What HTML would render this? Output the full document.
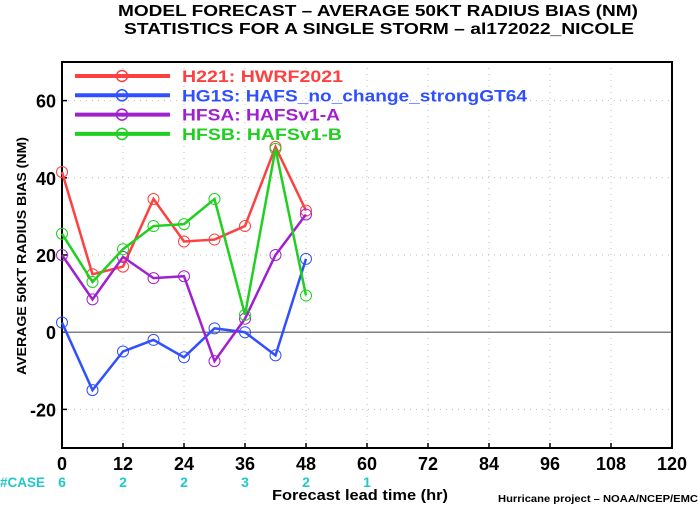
<!DOCTYPE html>
<html><head><meta charset="utf-8"><style>
body{margin:0;background:#fff;}
svg text{font-family:"Liberation Sans",sans-serif;font-weight:bold;}
</style></head><body>
<svg width="700" height="506" viewBox="0 0 700 506" xmlns="http://www.w3.org/2000/svg">
<text x="378" y="16" text-anchor="middle" font-size="16" textLength="520" lengthAdjust="spacingAndGlyphs">MODEL FORECAST – AVERAGE 50KT RADIUS BIAS (NM)</text>
<text x="379" y="34" text-anchor="middle" font-size="16" textLength="510" lengthAdjust="spacingAndGlyphs">STATISTICS FOR A SINGLE STORM – al172022_NICOLE</text>
<g id="grid"></g>
<g id="axes"></g>
<g id="series"></g>
<g id="legend"></g>
<text x="26" y="256" transform="rotate(-90 26 256)" text-anchor="middle" font-size="13" textLength="238" lengthAdjust="spacingAndGlyphs">AVERAGE 50KT RADIUS BIAS (NM)</text>
<text x="360" y="500" text-anchor="middle" font-size="15" textLength="176" lengthAdjust="spacingAndGlyphs">Forecast lead time (hr)</text>
<text x="698" y="502" text-anchor="end" font-size="10" font-weight="normal" textLength="200" lengthAdjust="spacingAndGlyphs">Hurricane project – NOAA/NCEP/EMC</text>
<text x="0" y="487" font-size="14" fill="#20c8c8" textLength="45" lengthAdjust="spacingAndGlyphs">#CASE</text>
</svg>
<script>
const hours=[0,6,12,18,24,30,36,42,48];
const h221=[41.5,15,17,34.5,23.5,24,27.5,48,31.5];
const hg1s=[2.5,-15,-5,-2,-6.5,1,0,-6,19];
const hfsa=[20,8.5,19.5,14,14.5,-7.5,3.5,20,30.5];
const hfsb=[25.5,13,21.5,27.5,28,34.5,4.5,47.5,9.5];
const xTicks=[0,12,24,36,48,60,72,84,96,108,120];
const yTicks=[-20,0,20,40,60];
const caseHours=[0,12,24,36,48,60];
const caseCounts=[6,2,2,3,2,1];
const seriesNames=["H221: HWRF2021","HG1S: HAFS_no_change_strongGT64","HFSA: HAFSv1-A","HFSB: HAFSv1-B"];
const nameLens=[161,345,158,160];
const colors=["#ff4040","#3050ff","#a020d0","#20d020"];
const NS="http://www.w3.org/2000/svg";
const L=62,R=672,T=62,B=448,ymin=-30,ymax=70;
const X=v=>L+(v-0)/120*(R-L);
const Y=v=>B-(v-ymin)/(ymax-ymin)*(B-T);
function mk(tag,attrs,parent,txt){const e=document.createElementNS(NS,tag);for(const k in attrs)e.setAttribute(k,attrs[k]);if(txt!==undefined)e.textContent=txt;document.getElementById(parent).appendChild(e);return e;}
xTicks.forEach(t=>{if(t>0&&t<120){const e=mk('line',{x1:X(t),x2:X(t),y1:T,y2:B,stroke:'#bbb','stroke-dasharray':'1 5'},'grid');}
 const tl=mk('text',{x:X(t),y:B+22,'text-anchor':'middle','font-size':'18'},'axes',t);
 const tk=mk('line',{x1:X(t),x2:X(t),y1:B,y2:B-5,stroke:'#000','stroke-width':1.5},'axes');});
yTicks.forEach(t=>{if(t!==0){const e=mk('line',{x1:L,x2:R,y1:Y(t),y2:Y(t),stroke:'#bbb','stroke-dasharray':'1 5'},'grid');}
 const tl=mk('text',{x:L-6,y:Y(t)+7,'text-anchor':'end','font-size':'18'},'axes',t);
 const tk=mk('line',{x1:L,x2:L+5,y1:Y(t),y2:Y(t),stroke:'#000','stroke-width':1.5},'axes');});
const zl=mk('line',{x1:L,x2:R,y1:Y(0),y2:Y(0),stroke:'#555','stroke-width':1.2},'axes');
const fr=mk('rect',{x:L,y:T,width:R-L,height:B-T,fill:'none',stroke:'#000','stroke-width':2},'axes');
caseHours.forEach((h,i)=>{const e=mk('text',{x:X(h),y:487,'text-anchor':'middle','font-size':'14',fill:'#20c8c8'},'axes',caseCounts[i]);});
[h221,hg1s,hfsa,hfsb].forEach((s,k)=>{
 const p=mk('polyline',{points:s.map((v,i)=>X(hours[i])+','+Y(v)).join(' '),fill:'none',stroke:colors[k],'stroke-width':2.5},'series');
 
 s.forEach((v,i)=>{const c=mk('circle',{cx:X(hours[i]),cy:Y(v),r:5.5,fill:'none',stroke:colors[k],'stroke-width':1},'series');});
 const ly=76+k*19.3;
 const ll=mk('line',{x1:75,x2:170,y1:ly,y2:ly,stroke:colors[k],'stroke-width':4},'legend');
 const lc=mk('circle',{cx:122,cy:ly,r:5.5,fill:'none',stroke:colors[k],'stroke-width':1.5},'legend');
 const lt=mk('text',{x:182,y:ly+6,'font-size':'17',fill:colors[k],textLength:nameLens[k],lengthAdjust:'spacingAndGlyphs'},'legend',seriesNames[k]);
});
</script>
</body></html>
